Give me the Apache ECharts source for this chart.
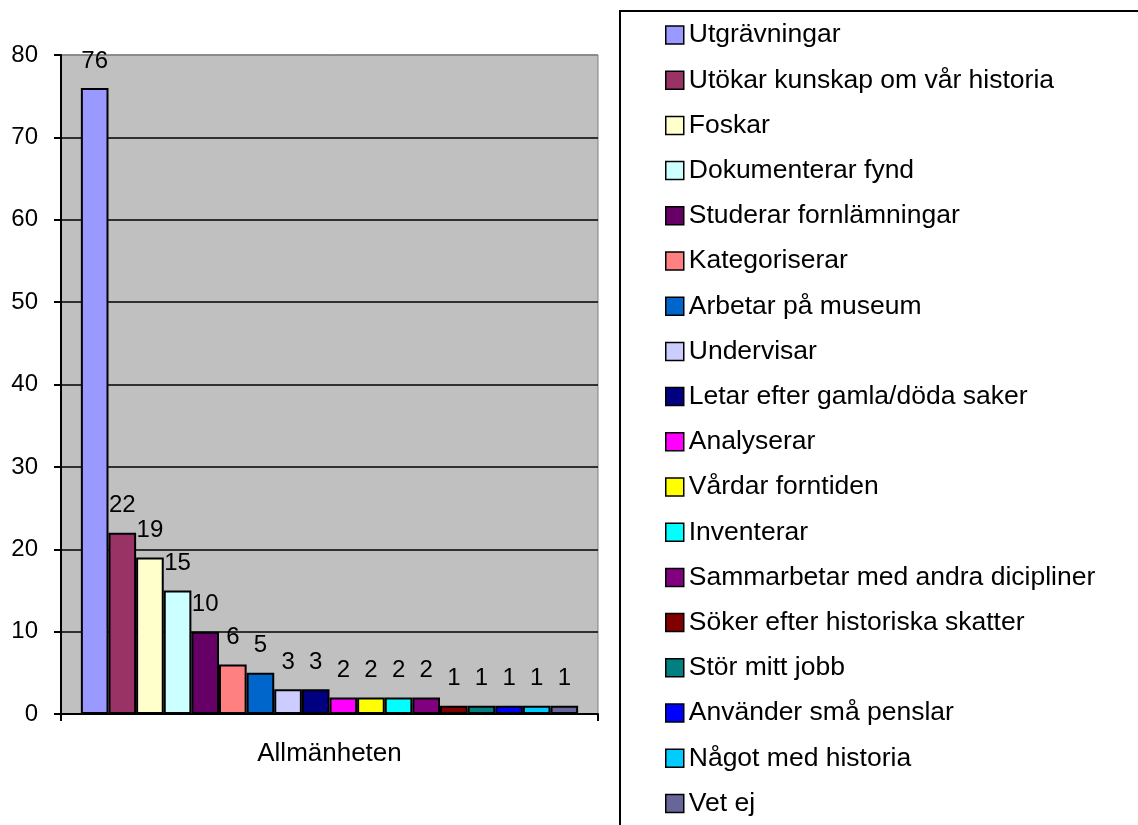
<!DOCTYPE html>
<html>
<head>
<meta charset="utf-8">
<script src="https://cdn.jsdelivr.net/npm/echarts@6/dist/echarts.min.js"></script>
<style>
  html, body { margin: 0; padding: 0; background: #fff; }
  #chart { width: 1138px; height: 825px; }
</style>
</head>
<body>
<div id="chart"></div>
<script>
// data
const categories = ['Allmänheten'];
const seriesNames = ['Utgrävningar', 'Utökar kunskap om vår historia', 'Foskar', 'Dokumenterar fynd',
  'Studerar fornlämningar', 'Kategoriserar', 'Arbetar på museum', 'Undervisar',
  'Letar efter gamla/döda saker', 'Analyserar', 'Vårdar forntiden', 'Inventerar',
  'Sammarbetar med andra dicipliner', 'Söker efter historiska skatter', 'Stör mitt jobb',
  'Använder små penslar', 'Något med historia', 'Vet ej'];
const seriesValues = [76, 22, 19, 15, 10, 6, 5, 3, 3, 2, 2, 2, 2, 1, 1, 1, 1, 1];
const seriesColors = ['#9999FF', '#993366', '#FFFFCC', '#CCFFFF', '#660066', '#FF8080', '#0066CC',
  '#CCCCFF', '#000080', '#FF00FF', '#FFFF00', '#00FFFF', '#800080', '#800000', '#008080',
  '#0000FF', '#00CCFF', '#666699'];
const yTicks = [0, 10, 20, 30, 40, 50, 60, 70, 80];

const font = 'Liberation Sans, Arial, sans-serif';
const chart = echarts.init(document.getElementById('chart'));

const series = seriesNames.map((name, i) => ({
  name: name,
  type: 'bar',
  data: [seriesValues[i]],
  barGap: '0%',
  barCategoryGap: '7.4%',
  itemStyle: { color: seriesColors[i], borderColor: '#000', borderWidth: 2 },
  label: {
    show: true,
    position: 'top',
    distance: 15,
    color: '#000',
    fontFamily: font,
    fontSize: 24,
  },
  emphasis: { disabled: true },
}));

const option = {
  animation: false,
  backgroundColor: '#fff',
  grid: {
    left: 61, right: 540, top: 55, bottom: 111,
    show: true,
    backgroundColor: '#C0C0C0',
    borderColor: '#808080',
    borderWidth: 1,
  },
  xAxis: {
    type: 'category',
    data: categories,
    axisLine: { lineStyle: { color: '#000', width: 2 } },
    axisTick: { show: true, length: 7, lineStyle: { color: '#000', width: 2 } },
    axisLabel: { color: '#000', fontFamily: font, fontSize: 26, margin: 27 },
  },
  yAxis: {
    type: 'value',
    min: yTicks[0],
    max: yTicks[yTicks.length - 1],
    interval: 10,
    axisLine: { show: true, lineStyle: { color: '#000', width: 2 } },
    axisTick: { show: true, length: 7, lineStyle: { color: '#000', width: 2 } },
    axisLabel: { color: '#000', fontFamily: font, fontSize: 24, margin: 23 },
    splitLine: {
      lineStyle: {
        color: ['#000', '#000', '#000', '#000', '#000', '#000', '#000', '#000', '#808080'],
        width: 1.5,
      },
    },
  },
  legend: {
    orient: 'vertical',
    left: 660,
    top: 16,
    itemWidth: 18,
    itemHeight: 18,
    itemGap: 17.2,
    icon: 'rect',
    itemStyle: { borderColor: '#000', borderWidth: 1.5 },
    textStyle: { color: '#000', fontFamily: font, fontSize: 26.5, lineHeight: 28 },
    data: seriesNames,
  },
  graphic: [{
    type: 'rect',
    shape: { x: 620, y: 11, width: 700, height: 1000 },
    style: { fill: 'none', stroke: '#000', lineWidth: 2 },
    silent: true,
  }],
  series: series,
};
chart.setOption(option);
</script>
</body>
</html>
